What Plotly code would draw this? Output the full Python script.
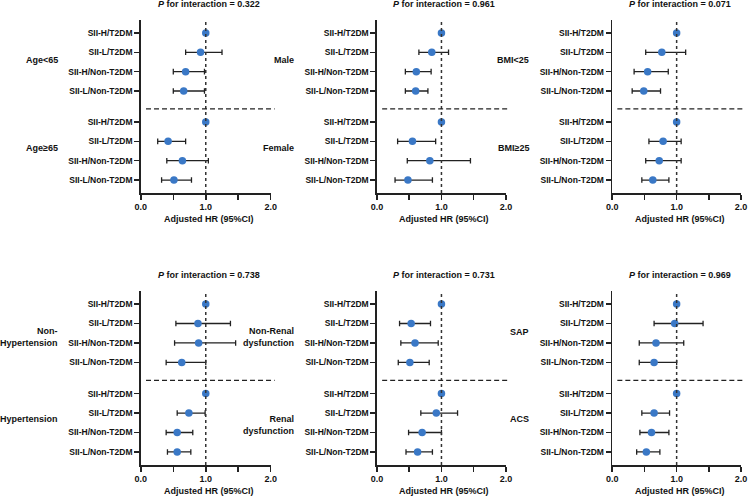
import plotly.graph_objects as go

# ---------------- data ----------------
row_labels = ["SII-H/T2DM", "SII-L/T2DM", "SII-H/Non-T2DM", "SII-L/Non-T2DM"] * 2
row_pos = [0, 1, 2, 3, 4.6, 5.6, 6.6, 7.6]
x_tickvals = [0, 0.5, 1, 1.5, 2]
x_ticktext = ["0.0", "", "1.0", "", "2.0"]
x_title = "Adjusted HR (95%CI)"

age_groups = ["Age<65", "Age≥65"]
age_p = "0.322"
age_hr = [1.0, 0.92, 0.69, 0.66, 1.0, 0.42, 0.64, 0.51]
age_lo = [1.0, 0.69, 0.50, 0.50, 1.0, 0.26, 0.40, 0.32]
age_hi = [1.0, 1.25, 0.98, 0.98, 1.0, 0.69, 1.04, 0.78]

sex_groups = ["Male", "Female"]
sex_p = "0.961"
sex_hr = [1.0, 0.85, 0.61, 0.60, 1.0, 0.55, 0.82, 0.48]
sex_lo = [1.0, 0.65, 0.44, 0.44, 1.0, 0.32, 0.47, 0.28]
sex_hi = [1.0, 1.11, 0.84, 0.79, 1.0, 0.91, 1.45, 0.86]

bmi_groups = ["BMI<25", "BMI≥25"]
bmi_p = "0.071"
bmi_hr = [1.0, 0.77, 0.55, 0.49, 1.0, 0.79, 0.73, 0.63]
bmi_lo = [1.0, 0.52, 0.34, 0.31, 1.0, 0.57, 0.52, 0.46]
bmi_hi = [1.0, 1.14, 0.87, 0.75, 1.0, 1.07, 1.07, 0.88]

htn_groups = ["Non-<br>Hypertension", "Hypertension"]
htn_p = "0.738"
htn_hr = [1.0, 0.88, 0.89, 0.63, 1.0, 0.74, 0.56, 0.56]
htn_lo = [1.0, 0.54, 0.52, 0.39, 1.0, 0.56, 0.39, 0.41]
htn_hi = [1.0, 1.38, 1.46, 1.00, 1.0, 0.99, 0.80, 0.77]

renal_groups = ["Non-Renal<br>dysfunction", "Renal<br>dysfunction"]
renal_p = "0.731"
renal_hr = [1.0, 0.53, 0.59, 0.51, 1.0, 0.92, 0.70, 0.63]
renal_lo = [1.0, 0.35, 0.37, 0.33, 1.0, 0.68, 0.49, 0.45]
renal_hi = [1.0, 0.83, 0.95, 0.81, 1.0, 1.25, 1.00, 0.86]

cad_groups = ["SAP", "ACS"]
cad_p = "0.969"
cad_hr = [1.0, 0.97, 0.68, 0.65, 1.0, 0.65, 0.61, 0.53]
cad_lo = [1.0, 0.65, 0.42, 0.42, 1.0, 0.46, 0.43, 0.38]
cad_hi = [1.0, 1.41, 1.11, 1.00, 1.0, 0.89, 0.88, 0.74]

panels = [
    (age_groups, age_p, age_hr, age_lo, age_hi),
    (sex_groups, sex_p, sex_hr, sex_lo, sex_hi),
    (bmi_groups, bmi_p, bmi_hr, bmi_lo, bmi_hi),
    (htn_groups, htn_p, htn_hr, htn_lo, htn_hi),
    (renal_groups, renal_p, renal_hr, renal_lo, renal_hi),
    (cad_groups, cad_p, cad_hr, cad_lo, cad_hi),
]

# ---------------- layout geometry (pixels) ----------------
W, H = 753, 498
col_px = [(137, 269), (377, 508), (616, 747)]
row_px = [(20, 193), (291, 465)]  # top, bottom
y_range = [8.27, -0.67]
sep_y = 3.92

FONT = "Liberation Sans, Arial, Helvetica, sans-serif"
TXT = "#111111"
AX = "#222222"
BLUE = "#3a78c6"

fig = go.Figure()
layout = dict(
    width=W, height=H,
    margin=dict(l=0, r=0, t=0, b=0),
    paper_bgcolor="white", plot_bgcolor="white",
    showlegend=False,
    font=dict(family=FONT, color=TXT, size=9),
)
annotations = []
shapes = []

for i, (groups, p, hr, lo, hi) in enumerate(panels):
    r, c = divmod(i, 3)
    n = i + 1
    xa = "x" if n == 1 else f"x{n}"
    ya = "y" if n == 1 else f"y{n}"
    x0p, x1p = col_px[c]
    t_px, b_px = row_px[r]
    xd = [x0p / W, x1p / W]
    yd = [1 - b_px / H, 1 - t_px / H]

    err_plus = [h - v for h, v in zip(hi, hr)]
    err_minus = [v - l for v, l in zip(hr, lo)]
    fig.add_trace(go.Scatter(
        x=hr, y=row_pos, mode="markers",
        marker=dict(color=BLUE, size=7.5, line=dict(width=0)),
        error_x=dict(type="data", symmetric=False, array=err_plus,
                     arrayminus=err_minus, color=AX, thickness=1.3, width=2.8),
        xaxis=xa, yaxis=ya, cliponaxis=False, hoverinfo="skip",
    ))

    layout["xaxis" if n == 1 else f"xaxis{n}"] = dict(
        domain=xd, anchor=ya, range=[0, 2], fixedrange=True,
        showgrid=False, zeroline=False, showline=True, linecolor=AX, linewidth=1.6,
        ticks="outside", ticklen=5, tickwidth=1.5, tickcolor=AX,
        tickvals=x_tickvals, ticktext=x_ticktext,
        tickfont=dict(family=FONT, size=9, color=TXT, weight=700),
    )
    layout["yaxis" if n == 1 else f"yaxis{n}"] = dict(
        domain=yd, anchor=xa, range=y_range, fixedrange=True,
        showgrid=False, zeroline=False, showline=True, linecolor=AX, linewidth=1.6,
        ticks="outside", ticklen=5, tickwidth=1.3, tickcolor=AX,
        tickvals=row_pos, ticktext=row_labels,
        tickfont=dict(family=FONT, size=8.5, color=TXT, weight=700),
    )

    # vertical reference line at HR = 1
    shapes.append(dict(type="line", xref=xa, yref=f"{ya} domain", x0=1, x1=1,
                       y0=0, y1=1, line=dict(color="#333333", width=1.5, dash="3px,3px")))
    # horizontal group separator (extends slightly beyond x = 2)
    pw = x1p - x0p
    shapes.append(dict(type="line", xref="paper", yref=ya,
                       x0=(x0p + 0.04 * pw) / W, x1=(x0p + 1.03 * pw) / W,
                       y0=sep_y, y1=sep_y,
                       line=dict(color="#222222", width=1.3, dash="5px,3px")))

    # title
    annotations.append(dict(
        xref="paper", yref="paper", x=((x0p + x1p) / 2 + 3) / W, y=1 - (t_px - 16) / H,
        text=f"<b><i>P</i> for interaction = {p}</b>", showarrow=False,
        xanchor="center", yanchor="middle", font=dict(family=FONT, size=9, color=TXT)))
    # x title
    annotations.append(dict(
        xref="paper", yref="paper", x=((x0p + x1p) / 2 + 3) / W, y=1 - (b_px + 26) / H,
        text=f"<b>{x_title}</b>", showarrow=False,
        xanchor="center", yanchor="middle", font=dict(family=FONT, size=9, color=TXT)))
    # group labels
    for g, label in enumerate(groups):
        two = "<br>" in label
        ypos = (1.67 if two else 1.42) if g == 0 else (6.2 if two else 5.93)
        annotations.append(dict(
            xref="paper", yref=ya, x=(x0p - 82) / W, y=ypos,
            text=f"<b>{label}</b>", showarrow=False, align="right",
            xanchor="right", yanchor="middle",
            font=dict(family=FONT, size=9, color=TXT)))

layout["annotations"] = annotations
layout["shapes"] = shapes
fig.update_layout(**layout)
fig.write_html(
    "out.html",
    config={"displayModeBar": False, "staticPlot": True},
    post_script="document.body.style.margin='0';document.body.style.overflow='hidden';",
)
